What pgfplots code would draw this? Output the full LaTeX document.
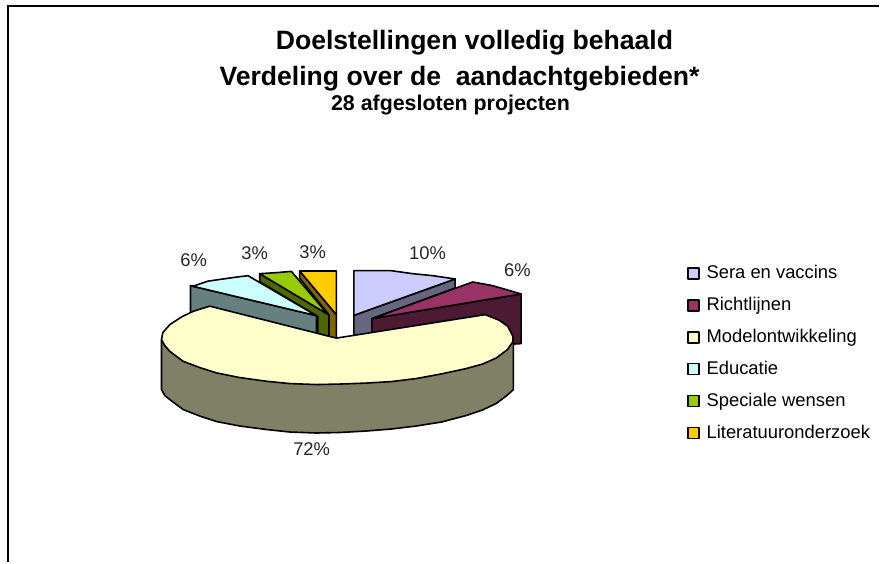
\documentclass[border=0pt]{standalone}
\usepackage{fontspec}
\setmainfont{Liberation Sans}
\usepackage{pgfplots}
\pgfplotsset{compat=1.18}
\definecolor{seraT}{HTML}{CCCCFF}\definecolor{seraS}{HTML}{666680}
\definecolor{richT}{HTML}{993366}\definecolor{richS}{HTML}{4D1A33}
\definecolor{modT}{HTML}{FFFFCC}\definecolor{modS}{HTML}{808066}
\definecolor{eduT}{HTML}{CCFFFF}\definecolor{eduS}{HTML}{668080}
\definecolor{speT}{HTML}{99CC00}\definecolor{speS}{HTML}{4D6600}
\definecolor{litT}{HTML}{FFCC00}\definecolor{litS}{HTML}{806600}
\begin{document}
\begin{tikzpicture}
\path (0,0) rectangle (880pt,563pt);
\begin{axis}[
    at={(0,0)}, anchor=south west,
    width=880pt, height=563pt, scale only axis,
    xmin=0, xmax=880, ymin=0, ymax=563, y dir=reverse,
    hide axis, clip=false,
    every axis plot/.append style={draw=black, line width=1.6pt, line join=round, forget plot},
    legend cell align=left,
    legend image code/.code={\draw[#1, line width=1.4pt] (0pt,-5.5pt) rectangle (11pt,5.5pt);},
    legend style={at={(axis cs:688,264.5)}, anchor=north west, draw=none, fill=none,
        inner sep=0pt, row sep=14pt, column sep=0pt, font=\fontsize{18.4}{20}\selectfont,
        nodes={inner sep=0pt, outer sep=0pt, text height=14pt, text depth=4pt, inner xsep=6.8pt}},
]
\addlegendimage{fill=seraT}\addlegendentry{Sera en vaccins}
\addlegendimage{fill=richT}\addlegendentry{Richtlijnen}
\addlegendimage{fill=modT}\addlegendentry{Modelontwikkeling}
\addlegendimage{fill=eduT}\addlegendentry{Educatie}
\addlegendimage{fill=speT}\addlegendentry{Speciale wensen}
\addlegendimage{fill=litT}\addlegendentry{Literatuuronderzoek}

% frame, open to the right and at the bottom
\addplot[line width=2pt, line join=miter] coordinates {(880,6) (8.5,6) (8.5,563)};

% Literatuuronderzoek
\addplot[fill=litS] coordinates {(300,271.3) (300,278.5) (329.3,315) (329.3,345) (336.7,345) (336.7,315)} --cycle;
\addplot[fill=litT] coordinates {(300,271.3) (336.7,271.3) (336.7,315)} --cycle;
% Speciale wensen
\addplot[fill=speS] coordinates {(260,274) (260,282) (318.3,317) (318.3,345) (329.3,345) (329.3,315)} --cycle;
\addplot[fill=speT] coordinates {(260,274) (276,273) (291.7,271.7) (328,314.5)} --cycle;
% Educatie
\addplot[fill=eduS] coordinates {(190.7,286) (190.7,320) (316.7,345) (316.7,316)} --cycle;
\addplot[fill=eduT] coordinates {(190.7,286) (195,286) (208,281.5) (222,279.5) (236,277.5) (248.3,276) (316.7,316)} --cycle;
% Sera en vaccins
\addplot[fill=seraS] coordinates {(354.3,315.7) (455.7,279.3) (455.7,288.3) (372.3,319) (372.3,345) (354.3,345)} --cycle;
\addplot[fill=seraT] coordinates {(354.3,271) (391.7,271) (413.3,274) (433.3,276) (455.7,279.3) (354.3,315.7)} --cycle;
% Richtlijnen
\addplot[fill=richS] coordinates {(372.3,319) (521.7,294.3) (521.7,344) (505,345) (372.3,345)} --cycle;
\addplot[fill=richT] coordinates {(372.3,319) (473.3,282.3) (493.3,286) (507,290) (521.7,294.3)} --cycle;
% Modelontwikkeling
\addplot[fill=modS] coordinates {(161.7,340) (161.7,390) (165,396) (170,400) (183.3,410) (200,416.5) (216.7,422) (240,426.5) (266.7,430) (290,432.5) (316.7,433.5) (340,433) (366.7,431.5) (392,429.5) (416.7,426.5) (442,422.5) (466.7,416) (483,410.5) (496.7,404) (508,395.5) (514,390) (514,340)} --cycle;
\addplot[fill=modT] coordinates {(336.7,338.5) (210,306.5) (193.3,311.7) (181.7,317.3) (170,325) (163,333) (161.7,340) (165,346) (170,351.7) (183.3,361.7) (200,368) (216.7,373.3) (240,378) (266.7,381.7) (290,384) (316.7,385) (340,384.5) (366.7,383.5) (392,382) (416.7,379) (442,374.3) (466.7,369) (483,364.5) (496.7,358.5) (508,350) (513.5,342) (513.5,336.7) (508.3,326.7) (500,320.7) (485.7,315)} --cycle;

% percentages
\begin{scope}[every node/.style={font=\fontsize{18.4}{20}\selectfont, text=black!85, inner sep=0pt}]
\node at (axis cs:428,253) {10\%};
\node at (axis cs:518,270) {6\%};
\node at (axis cs:194,260) {6\%};
\node at (axis cs:255,253) {3\%};
\node at (axis cs:313,252) {3\%};
\node at (axis cs:312,450) {72\%};
\end{scope}

% title
\node[font=\fontsize{26.6}{30}\selectfont\bfseries, inner sep=0pt, anchor=base] at (axis cs:475,50) {Doelstellingen volledig behaald};
\node[font=\fontsize{26.6}{30}\selectfont\bfseries, inner sep=0pt, anchor=base] at (axis cs:460,86) {Verdeling over de\ \ aandachtgebieden*};
\node[font=\fontsize{21.4}{24}\selectfont\bfseries, inner sep=0pt, anchor=base] at (axis cs:451,111) {28 afgesloten projecten};
\end{axis}
\end{tikzpicture}
\end{document}
